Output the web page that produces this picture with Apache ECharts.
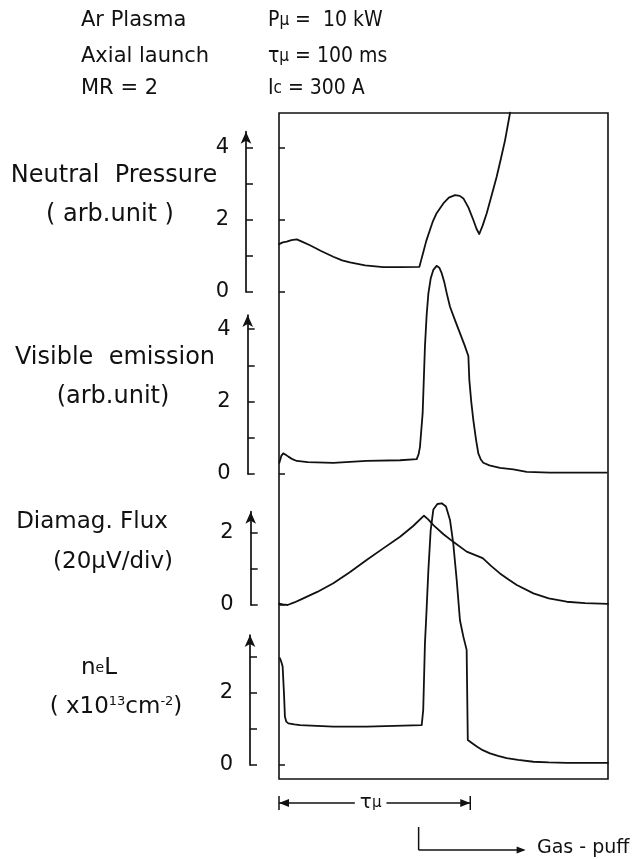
<!DOCTYPE html>
<html><head><meta charset="utf-8">
<script src="https://cdn.jsdelivr.net/npm/echarts@6/dist/echarts.min.js"></script>
<style>html,body{margin:0;padding:0;background:#fff}#c{width:634px;height:859px}</style>
</head><body><div id="c"></div>
<script>
// ---- data (time in ms) ----
const XMAX = 172;
const tauMs = 100;
const gasPuffMs = 73;

const npTime  = [0, 2.0, 4.0, 6.5, 9.3, 12.0, 16.2, 22.0, 28.4, 33.0, 37.1, 45.0, 54.5, 64.0, 73.4, 74.5, 75.5, 77.0, 78.9, 80.5, 82.4, 85.9, 88.8, 92.0, 94.5, 96.4, 99.0, 101.6, 103.3, 104.7, 106.5, 108.6, 111.0, 113.8, 116.0, 118.2, 120.8];
const npValue = [1.33, 1.38, 1.40, 1.44, 1.46, 1.40, 1.30, 1.14, 0.98, 0.88, 0.82, 0.74, 0.69, 0.69, 0.70, 0.92, 1.12, 1.42, 1.72, 1.97, 2.19, 2.46, 2.62, 2.69, 2.67, 2.60, 2.35, 2.00, 1.75, 1.61, 1.85, 2.19, 2.65, 3.20, 3.70, 4.22, 4.98];

const veTime  = [0.2, 1.2, 2.2, 3.5, 4.9, 7.0, 9.3, 15.0, 28.4, 45.8, 63.3, 72.0, 73.0, 73.7, 75.1, 76.3, 77.2, 78.1, 79.3, 80.7, 82.4, 83.8, 85.1, 86.5, 87.7, 89.4, 92.0, 94.6, 97.0, 99.0, 99.5, 100.5, 101.6, 103.0, 104.2, 105.5, 106.8, 110.0, 115.5, 122.5, 129.5, 141.7, 171.3];
const veValue = [0.31, 0.50, 0.57, 0.53, 0.48, 0.41, 0.36, 0.33, 0.31, 0.36, 0.38, 0.41, 0.55, 0.75, 1.68, 3.52, 4.40, 4.99, 5.40, 5.64, 5.75, 5.70, 5.54, 5.28, 4.99, 4.62, 4.25, 3.89, 3.56, 3.26, 2.60, 2.00, 1.49, 0.95, 0.57, 0.40, 0.31, 0.24, 0.17, 0.13, 0.06, 0.04, 0.04];

const dfTime  = [0, 2.0, 4.5, 8.0, 11.0, 20.0, 28.4, 37.0, 45.8, 54.5, 63.3, 70.0, 75.8, 78.0, 80.7, 86.0, 91.1, 98.1, 106.5, 111.0, 115.5, 120.0, 124.3, 133.0, 141.0, 150.4, 160.0, 172];
const dfValue = [0.04, 0.02, 0.0, 0.07, 0.14, 0.36, 0.60, 0.90, 1.24, 1.56, 1.88, 2.17, 2.46, 2.36, 2.20, 1.95, 1.74, 1.47, 1.29, 1.07, 0.87, 0.70, 0.55, 0.32, 0.18, 0.09, 0.05, 0.03];

const neTime  = [0.5, 1.2, 1.9, 2.6, 3.1, 3.8, 4.9, 8.0, 11.0, 28.4, 45.8, 74.6, 75.4, 76.3, 76.9, 78.1, 79.3, 80.7, 82.8, 85.1, 87.3, 89.4, 91.1, 92.9, 94.6, 96.4, 98.1, 98.7, 101.0, 103.4, 106.5, 110.3, 114.5, 119.0, 125.0, 133.0, 141.0, 150.4, 172];
const neValue = [2.95, 2.85, 2.72, 1.98, 1.33, 1.20, 1.15, 1.12, 1.10, 1.06, 1.06, 1.10, 1.52, 3.36, 4.00, 5.39, 6.49, 7.06, 7.21, 7.23, 7.14, 6.77, 6.12, 5.11, 4.00, 3.54, 3.18, 0.69, 0.60, 0.51, 0.41, 0.32, 0.25, 0.19, 0.14, 0.09, 0.07, 0.06, 0.06];

const npTicks = [0, 1, 2, 3, 4], npLabels = [0, 2, 4], npFrameTicks = [0, 2, 4];
const veTicks = [0, 1, 2, 3, 4], veLabels = [0, 2, 4], veFrameTicks = [0];
const dfTicks = [0, 1, 2],       dfLabels = [0, 2],    dfFrameTicks = [0];
const neTicks = [0, 1, 2, 3],    neLabels = [0, 2],    neFrameTicks = [0];

// ---- layout ----
const FONT = 'DejaVu Sans';
const FONTC = 'DejaVu Sans Condensed, DejaVu Sans';
const INK = '#111';
const FR = {left: 279, right: 608, top: 113, bottom: 779};
const panels = [
  {t: npTime, v: npValue, ticks: npTicks, labels: npLabels, ft: npFrameTicks, zero: 292,   top: 131.7, axisX: 246,   unit: 36.0},
  {t: veTime, v: veValue, ticks: veTicks, labels: veLabels, ft: veFrameTicks, zero: 474,   top: 315,   axisX: 247.7, unit: 36.2},
  {t: dfTime, v: dfValue, ticks: dfTicks, labels: dfLabels, ft: dfFrameTicks, zero: 605,   top: 511.7, axisX: 250.7, unit: 36.3},
  {t: neTime, v: neValue, ticks: neTicks, labels: neLabels, ft: neFrameTicks, zero: 765,   top: 635,   axisX: 250,   unit: 36.2}
];

const grid = [{left: FR.left, top: FR.top, width: FR.right - FR.left, height: FR.bottom - FR.top,
  show: true, borderColor: INK, borderWidth: 1.6, backgroundColor: 'transparent'}];
const xAxis = [{gridIndex: 0, type: 'value', min: 0, max: XMAX, show: false}];
const yAxis = [{gridIndex: 0, type: 'value', min: 0, max: 1, show: false}];
const series = [];

panels.forEach((p, i) => {
  const gi = i + 1;
  const ymax = (p.zero - p.top) / p.unit;
  grid.push({left: FR.left, top: p.top, width: FR.right - FR.left, height: p.zero - p.top});
  xAxis.push({gridIndex: gi, type: 'value', min: 0, max: XMAX, show: false});
  const yMain = yAxis.length;
  yAxis.push({
    gridIndex: gi, type: 'value', min: 0, max: ymax, position: 'left', offset: FR.left - p.axisX,
    axisLine: {show: true, onZero: false, symbol: ['none', 'arrow'], symbolSize: [8, 12], lineStyle: {color: INK, width: 1.7}},
    axisTick: {show: true, inside: true, length: 7, customValues: p.ticks, lineStyle: {color: INK, width: 1.5}},
    axisLabel: {show: true, customValues: p.labels, margin: 17, color: INK, fontFamily: FONT, fontSize: 21},
    splitLine: {show: false}
  });
  yAxis.push({
    gridIndex: gi, type: 'value', min: 0, max: ymax, position: 'left', offset: 0,
    axisLine: {show: false, onZero: false},
    axisTick: {show: true, inside: true, length: 6, customValues: p.ft, lineStyle: {color: INK, width: 1.5}},
    axisLabel: {show: false}, splitLine: {show: false}
  });
  series.push({
    type: 'line', xAxisIndex: gi, yAxisIndex: yMain,
    data: p.t.map((t, k) => [t, p.v[k]]),
    showSymbol: false, symbol: 'none', clip: false, smooth: false,
    lineStyle: {color: INK, width: 1.8, join: 'round', cap: 'round'}, silent: true, animation: false
  });
});

const chart = echarts.init(document.getElementById('c'), null, {renderer: 'canvas'});
chart.setOption({backgroundColor: '#fff', animation: false, grid, xAxis, yAxis, series});

// ---- annotations ----
function txt(x, y, text, size, align, rich, fam) {
  const style = {text, x: 0, y: 0, fill: INK, fontFamily: fam || FONT, fontSize: size, align: align || 'left', verticalAlign: 'middle'};
  if (rich) style.rich = rich;
  return {type: 'text', x, y, style, silent: true};
}
const big = (s, f) => ({fontFamily: f || FONT, fontSize: s, fill: INK});

const g = [];
// header
g.push(txt(81, 21, 'Ar Plasma', 21));
g.push(txt(81, 57, 'Axial launch', 21));
g.push(txt(81, 89, 'MR = 2', 21));
g.push(txt(268, 21, '{b|P}{s|μ}{b| =  10 kW}', 21, 'left', {b: big(21, FONTC), s: big(17, FONTC)}, FONTC));
g.push(txt(268, 57, '{b|τ}{s|μ}{b| = 100 ms}', 21, 'left', {b: big(21, FONTC), s: big(17, FONTC)}, FONTC));
g.push(txt(268, 89, '{b|I}{s|c}{b| = 300 A}', 21, 'left', {b: big(21, FONTC), s: big(17, FONTC)}, FONTC));
// left labels
g.push(txt(114, 176, 'Neutral  Pressure', 24, 'center'));
g.push(txt(110, 215, '( arb.unit )', 24, 'center'));
g.push(txt(115, 358, 'Visible  emission', 24, 'center'));
g.push(txt(113, 397, '(arb.unit)', 24, 'center'));
g.push(txt(92, 522, 'Diamag. Flux', 23, 'center'));
g.push(txt(113, 562, '(20μV/div)', 23, 'center'));
g.push(txt(99, 668, '{b|n}{s|e}{b|L}', 23, 'center', {b: big(23), s: big(14)}));
g.push(txt(116, 707, '{b|( x10}{u|13}{b|cm}{u|-2}{b|)}', 23, 'center', {b: big(23), u: {fontFamily: FONT, fontSize: 13, fill: INK, padding: [0, 0, 10, 0]}}));

// tau bar
const x0 = chart.convertToPixel({xAxisIndex: 4}, 0);
const x1 = chart.convertToPixel({xAxisIndex: 4}, tauMs);
const xg = chart.convertToPixel({xAxisIndex: 4}, gasPuffMs);
const yb = 803;
const ls = {stroke: INK, lineWidth: 1.5};
g.push({type: 'line', shape: {x1: x0, y1: yb - 7, x2: x0, y2: yb + 7}, style: ls, silent: true});
g.push({type: 'line', shape: {x1: x1, y1: yb - 7, x2: x1, y2: yb + 7}, style: ls, silent: true});
g.push({type: 'line', shape: {x1: x0, y1: yb, x2: x1, y2: yb}, style: ls, silent: true});
g.push({type: 'polygon', shape: {points: [[x0, yb], [x0 + 10, yb - 4], [x0 + 10, yb + 4]]}, style: {fill: INK}, silent: true});
g.push({type: 'polygon', shape: {points: [[x1, yb], [x1 - 10, yb - 4], [x1 - 10, yb + 4]]}, style: {fill: INK}, silent: true});
const tc = (x0 + x1) / 2 - 4;
g.push({type: 'text', x: tc, y: yb, style: {text: '{b|τ}{s|μ}', x: 0, y: 0, align: 'center', verticalAlign: 'middle',
  backgroundColor: '#fff', padding: [0, 5], rich: {b: big(20), s: big(15)}}, silent: true});
// gas puff
const yg1 = 827, yg2 = 850, xe = xg + 105;
g.push({type: 'line', shape: {x1: xg, y1: yg1, x2: xg, y2: yg2}, style: ls, silent: true});
g.push({type: 'line', shape: {x1: xg, y1: yg2, x2: xe, y2: yg2}, style: ls, silent: true});
g.push({type: 'polygon', shape: {points: [[xe + 2, yg2], [xe - 7, yg2 - 3.5], [xe - 7, yg2 + 3.5]]}, style: {fill: INK}, silent: true});
g.push(txt(537, yg2 - 2, 'Gas - puff', 19));

chart.setOption({graphic: g});
</script></body></html>
